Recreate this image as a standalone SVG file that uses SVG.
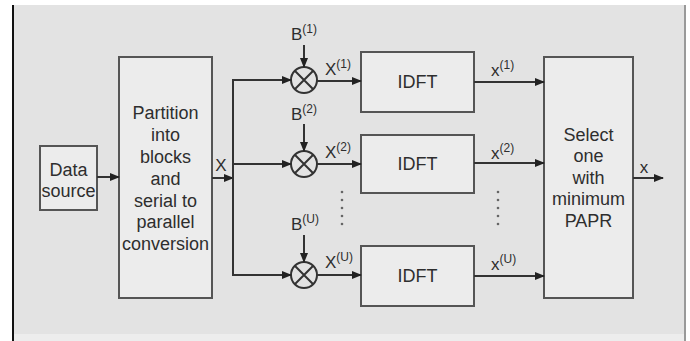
<svg xmlns="http://www.w3.org/2000/svg" width="690" height="341" viewBox="0 0 690 341">
<defs>
<marker id="ah" markerWidth="10" markerHeight="8" refX="9" refY="4" orient="auto" markerUnits="userSpaceOnUse">
<path d="M0,0 L10,4 L0,8 Z" fill="#222"/>
</marker>
<style>
.box{fill:#ececec;stroke:#555;stroke-width:2}
.t{font-family:"Liberation Sans",Arial,sans-serif;font-size:18px;fill:#2e2e2e;text-anchor:middle}
.l{font-family:"Liberation Sans",Arial,sans-serif;font-size:17px;fill:#2e2e2e}
.sup{font-size:12px}
.c{stroke:#333;stroke-width:2;fill:none}
.a{stroke:#333;stroke-width:2;fill:none;marker-end:url(#ah)}
.dot{fill:#666}
</style>
</defs>
<rect x="0" y="0" width="690" height="341" fill="#ffffff"/>
<rect x="13" y="5" width="672" height="336" fill="#ededed"/>
<rect x="13" y="5" width="672" height="329" fill="#e3e3e3"/>
<line x1="13" y1="5" x2="13" y2="341" stroke="#111" stroke-width="2"/>
<line x1="685" y1="5" x2="685" y2="341" stroke="#999" stroke-width="2"/>

<g id="data-source">
<rect class="box" x="40" y="146" width="57" height="64"/>
<text class="t" x="68.5" y="176">Data</text>
<text class="t" x="68.5" y="197">source</text>
</g>

<g id="partition">
<rect class="box" x="119" y="57" width="93" height="241"/>
<text class="t" x="165.5" y="119">Partition</text>
<text class="t" x="165.5" y="141">into</text>
<text class="t" x="165.5" y="163">blocks</text>
<text class="t" x="165.5" y="185">and</text>
<text class="t" x="165.5" y="207">serial to</text>
<text class="t" x="165.5" y="228">parallel</text>
<text class="t" x="165.5" y="250">conversion</text>
</g>

<g id="mult1">
<circle class="c" cx="304" cy="80" r="13"/>
<path class="c" d="M294.8,70.8 L313.2,89.2 M313.2,70.8 L294.8,89.2" stroke-width="1.5"/>
</g>
<g id="mult2">
<circle class="c" cx="304" cy="164" r="13"/>
<path class="c" d="M294.8,154.8 L313.2,173.2 M313.2,154.8 L294.8,173.2" stroke-width="1.5"/>
</g>
<g id="multU">
<circle class="c" cx="304" cy="275" r="13"/>
<path class="c" d="M294.8,265.8 L313.2,284.2 M313.2,265.8 L294.8,284.2" stroke-width="1.5"/>
</g>

<g id="idft1">
<rect class="box" x="361" y="52" width="113" height="60"/>
<text class="t" x="417.5" y="88">IDFT</text>
</g>
<g id="idft2">
<rect class="box" x="361" y="135" width="113" height="58"/>
<text class="t" x="417.5" y="170">IDFT</text>
</g>
<g id="idftU">
<rect class="box" x="361" y="246" width="113" height="60"/>
<text class="t" x="417.5" y="282">IDFT</text>
</g>

<g id="select">
<rect class="box" x="544" y="57" width="89" height="241"/>
<text class="t" x="588.5" y="141">Select</text>
<text class="t" x="588.5" y="162">one</text>
<text class="t" x="588.5" y="184">with</text>
<text class="t" x="588.5" y="205">minimum</text>
<text class="t" x="588.5" y="227">PAPR</text>
</g>

<g id="connectors">
<line class="a" x1="97" y1="177" x2="119" y2="177"/>
<line class="a" x1="212" y1="178" x2="233" y2="178"/>
<line class="c" x1="233" y1="79" x2="233" y2="276"/>
<line class="a" x1="232" y1="80" x2="291" y2="80"/>
<line class="a" x1="232" y1="164" x2="291" y2="164"/>
<line class="a" x1="232" y1="275" x2="291" y2="275"/>
<line class="a" x1="304" y1="45" x2="304" y2="67"/>
<line class="a" x1="304" y1="124" x2="304" y2="151"/>
<line class="a" x1="304" y1="235" x2="304" y2="262"/>
<line class="a" x1="317" y1="81" x2="361" y2="81"/>
<line class="a" x1="317" y1="164" x2="361" y2="164"/>
<line class="a" x1="317" y1="275" x2="361" y2="275"/>
<line class="a" x1="474" y1="82" x2="544" y2="82"/>
<line class="a" x1="474" y1="163" x2="544" y2="163"/>
<line class="a" x1="474" y1="276" x2="544" y2="276"/>
<line class="a" x1="633" y1="178" x2="663" y2="178"/>
</g>

<g id="labels">
<text class="l" x="221" y="171" text-anchor="middle">X</text>
<text class="l" x="291" y="40">B<tspan class="sup" dy="-7">(1)</tspan></text>
<text class="l" x="291" y="120">B<tspan class="sup" dy="-7">(2)</tspan></text>
<text class="l" x="291" y="230">B<tspan class="sup" dy="-7">(U)</tspan></text>
<text class="l" x="325" y="75">X<tspan class="sup" dy="-7">(1)</tspan></text>
<text class="l" x="325" y="158">X<tspan class="sup" dy="-7">(2)</tspan></text>
<text class="l" x="325" y="268">X<tspan class="sup" dy="-7">(U)</tspan></text>
<text class="l" x="491" y="76">x<tspan class="sup" dy="-7">(1)</tspan></text>
<text class="l" x="491" y="159">x<tspan class="sup" dy="-7">(2)</tspan></text>
<text class="l" x="491" y="270">x<tspan class="sup" dy="-7">(U)</tspan></text>
<text class="l" x="644" y="173" text-anchor="middle">x</text>
</g>

<g id="dots">
<circle class="dot" cx="342" cy="192" r="1.3"/>
<circle class="dot" cx="342" cy="200" r="1.3"/>
<circle class="dot" cx="342" cy="208" r="1.3"/>
<circle class="dot" cx="342" cy="216" r="1.3"/>
<circle class="dot" cx="342" cy="224" r="1.3"/>
<circle class="dot" cx="498" cy="192" r="1.3"/>
<circle class="dot" cx="498" cy="200" r="1.3"/>
<circle class="dot" cx="498" cy="208" r="1.3"/>
<circle class="dot" cx="498" cy="216" r="1.3"/>
<circle class="dot" cx="498" cy="224" r="1.3"/>
</g>
</svg>
